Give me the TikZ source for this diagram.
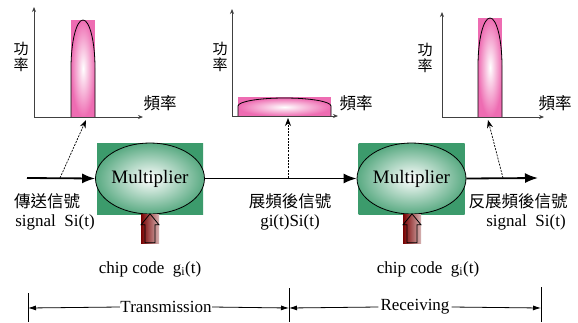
\documentclass[tikz,border=0pt]{standalone}
\usepackage{fontspec}
\setmainfont{Liberation Serif}
\newfontfamily\cjk{Noto Sans CJK TC}
\usetikzlibrary{
    arrows.meta,
    shapes.geometric,
}
\definecolor{boxgreen}{RGB}{60,155,108}
\definecolor{pinkc}{RGB}{238,108,178}
\definecolor{codered}{RGB}{120,0,0}

\begin{document}
\begin{tikzpicture}[x=1pt, y=-1pt,
        sig/.style={-{Latex[length=13pt, width=10pt]}, line width=1.8pt},
        probe/.style={-{Stealth[length=8pt, width=6pt]}, line width=0.7pt,
            dash pattern=on 2pt off 1.2pt},
        axis/.style={-{Stealth[length=5pt, width=4pt]}, line width=0.8pt, black!75},
        mulbox/.style={rectangle, minimum width=106pt, minimum height=71pt,
            inner sep=0pt, inner color=boxgreen!30, outer color=boxgreen},
        mul/.style={ellipse, draw, line width=0.8pt, minimum width=106pt,
            minimum height=71pt, inner sep=0pt, inner color=white,
            outer color=boxgreen!85, font=\fontsize{19}{22}\selectfont},
        coderect/.style={rectangle, minimum width=18pt, minimum height=29pt,
            inner sep=0pt, left color=codered, right color=codered!30!white},
        codearrow/.style={draw=black, line width=0.8pt, line join=miter},
        lbl/.style={inner sep=0pt, font=\fontsize{17}{20}\selectfont},
        zh/.style={inner sep=0pt, font=\cjk\fontsize{16.5}{18}\selectfont},
        ylbl/.style={inner sep=0pt, align=center, font=\cjk\fontsize{15}{15.5}\selectfont},
        dim/.style={-{Latex[length=8pt, width=5pt]}, line width=0.8pt},
        tick/.style={line width=0.9pt},
    ]
        \fill[white] (0,0) rectangle (578,322);
        \useasboundingbox (0,0) rectangle (578,322);

        % Spectrum before spreading
        \fill[pinkc] (71,20) rectangle (95,117);
        \shade[inner color=white, outer color=pinkc] (71,117) -- (71,68)
            arc[start angle=180, end angle=0, x radius=12pt, y radius=48pt] -- (95,117) -- cycle;
        \draw[line width=0.8pt] (71,117) -- (71,68)
            arc[start angle=180, end angle=0, x radius=12pt, y radius=48pt] -- (95,117);
        \coordinate (o1) at (34,117);
        \draw[axis] (o1) -- (34,7);
        \draw[axis] (o1) -- (143,117);
        \node[ylbl] (pow1) at (21,57) {功\\率};
        \node[zh] (freq1) at (160,103) {頻率};

        % Spectrum after spreading
        \fill[pinkc] (238,97) rectangle (331,116);
        \shade[inner color=white, outer color=pinkc] (238,116) -- (238,106)
            arc[start angle=180, end angle=0, x radius=46.5pt, y radius=8pt] -- (331,116) -- cycle;
        \draw[line width=0.8pt] (238,116) -- (238,106)
            arc[start angle=180, end angle=0, x radius=46.5pt, y radius=8pt] -- (331,116);
        \coordinate (o2) at (232,116);
        \draw[axis] (o2) -- (232,9);
        \draw[axis] (o2) -- (338,116);
        \node[ylbl] (pow2) at (220,57) {功\\率};
        \node[zh] (freq2) at (356,103) {頻率};

        % Spectrum after despreading
        \fill[pinkc] (478,18) rectangle (502,117);
        \shade[inner color=white, outer color=pinkc] (478,117) -- (478,66)
            arc[start angle=180, end angle=0, x radius=12pt, y radius=48pt] -- (502,117) -- cycle;
        \draw[line width=0.8pt] (478,117) -- (478,66)
            arc[start angle=180, end angle=0, x radius=12pt, y radius=48pt] -- (502,117);
        \coordinate (o3) at (442,117);
        \draw[axis] (o3) -- (442,12);
        \draw[axis] (o3) -- (544,117);
        \node[ylbl] (pow3) at (425,58) {功\\率};
        \node[zh] (freq3) at (555,103) {頻率};

        % Multipliers
        \node[mulbox] (box1) at (150,178.5) {};
        \node[mul] (mul1) at (150,178.5) {Multiplier};
        \node[mulbox] (box2) at (411.5,178.5) {};
        \node[mul] (mul2) at (411.5,178.5) {Multiplier};

        % Signal path
        \coordinate (in) at (27,178);
        \coordinate (out) at (538,178);
        \draw[sig] (in) -- (mul1.west);
        \draw[sig] (mul1.east) -- (mul2.west);
        \draw[sig] (mul2.east) -- (out);

        % Taps to the spectra
        \coordinate (tap1) at (60,178);
        \coordinate (spec1) at (86,120);
        \coordinate (tap2) at (288,178);
        \coordinate (spec2) at (288,118);
        \coordinate (tap3) at (503,178);
        \coordinate (spec3) at (488,120);
        \draw[probe] (tap1) -- (spec1);
        \draw[probe] (tap2) -- (spec2);
        \draw[probe] (tap3) -- (spec3);

        % Signal labels
        \node[zh] (txzh) at (47,201) {傳送信號};
        \node[lbl] (txen) at (55,222) {signal~~Si(t)};
        \node[zh] (spzh) at (290,201) {展頻後信號};
        \node[lbl] (spen) at (290,222) {gi(t)Si(t)};
        \node[zh] (rxzh) at (518,201) {反展頻後信號};
        \node[lbl] (rxen) at (526,222) {signal~~Si(t)};

        % Chip code inputs
        \node[coderect] (code1) at (150,228.5) {};
        \draw[codearrow] (code1.north) -- ++(9,11) -- ++(-4,0) -- ++(0,18)
            -- ++(-10,0) -- ++(0,-18) -- ++(-4,0) -- cycle;
        \node[coderect] (code2) at (412,228.5) {};
        \draw[codearrow] (code2.north) -- ++(9,11) -- ++(-4,0) -- ++(0,18)
            -- ++(-10,0) -- ++(0,-18) -- ++(-4,0) -- cycle;
        \node[lbl] (chip1) at (150,269) {chip code~~g\textsubscript{i}(t)};
        \node[lbl] (chip2) at (428,269) {chip code~~g\textsubscript{i}(t)};

        % Transmission / Receiving spans
        \draw[tick] (28,293) -- (28,322);
        \draw[tick] (289,288) -- (289,322);
        \draw[tick] (541,287) -- (541,322);
        \coordinate (t1) at (28,308);
        \coordinate (t2) at (289,308);
        \coordinate (t3) at (541,308);
        \node[lbl, inner sep=0.5pt] (trans) at (166,307) {Transmission};
        \node[lbl, inner sep=2pt] (recv) at (415,307) {Receiving};
        \draw[dim] (trans.west) -- (t1);
        \draw[dim] (trans.east) -- (t2);
        \draw[dim] (recv.west) -- (t2);
        \draw[dim] (recv.east) -- (t3);
    \end{tikzpicture}
\end{document}
